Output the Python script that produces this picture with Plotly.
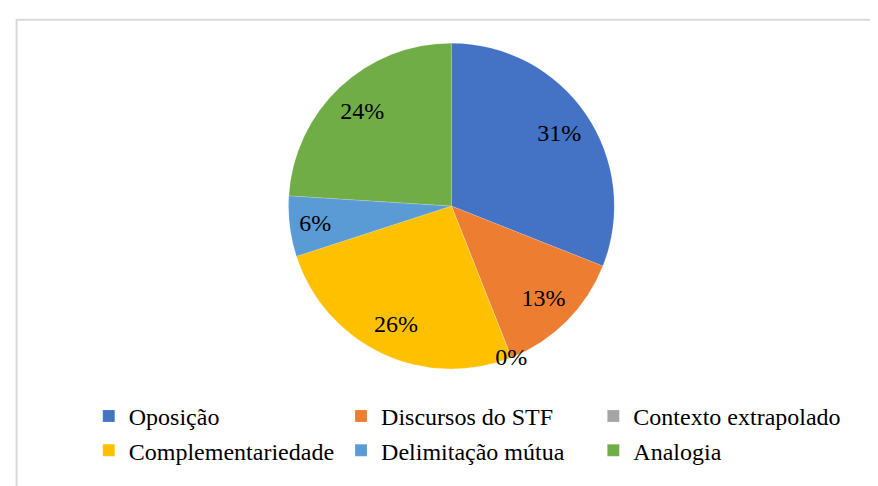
import plotly.graph_objects as go

# categories and shares (%)
categorias = ['Oposição', 'Discursos do STF', 'Contexto extrapolado',
              'Complementariedade', 'Delimitação mútua', 'Analogia']
valores = [31, 13, 0, 26, 6, 24]
cores = ['#4472C4', '#ED7D31', '#A5A5A5', '#FFC000', '#5B9BD5', '#70AD47']

fonte = 'Liberation Serif'

# a zero slice has no angle in plotly, so give it a hair-thin wedge to carry its label
valores_desenho = [v if v > 0 else 0.01 for v in valores]
dominio = dict(x = [0.3195, 0.6905], y = [0.257, 0.928])

fig = go.Figure()

# coloured slices
fig.add_trace(
    go.Pie(
        labels = categorias,
        values = valores_desenho,
        sort = False,
        direction = 'clockwise',
        rotation = 0,
        marker = dict(colors = cores, line = dict(color = 'rgba(255,255,255,0.3)', width = 0.5)),
        textinfo = 'none',
        domain = dominio,
        customdata = valores,
        hovertemplate = '%{label}: %{customdata}%<extra></extra>',
    )
)

# percentage labels, kept in the outer ring like the original
fig.add_trace(
    go.Pie(
        labels = categorias,
        values = valores_desenho,
        sort = False,
        direction = 'clockwise',
        rotation = 0,
        hole = 0.6,
        marker = dict(colors = ['rgba(0,0,0,0)'] * len(categorias), line = dict(width = 0)),
        customdata = valores,
        texttemplate = '%{customdata}%',
        textposition = 'inside',
        insidetextorientation = 'horizontal',
        textfont = dict(family = fonte, size = 24, color = 'black'),
        domain = dominio,
        showlegend = False,
        hoverinfo = 'skip',
    )
)

# light grey frame, as in the original chart
fig.add_shape(
    type = 'rect', xref = 'paper', yref = 'paper',
    x0 = 0.0098, x1 = 1.05, y0 = -0.05, y1 = 0.976,
    line = dict(color = '#d9d9d9', width = 2),
)

fig.update_layout(
    width = 878,
    height = 486,
    margin = dict(l = 0, r = 0, t = 0, b = 0, autoexpand = False),
    paper_bgcolor = 'white',
    plot_bgcolor = 'white',
    uniformtext = dict(minsize = 24, mode = 'show'),
    legend = dict(
        orientation = 'h',
        x = 0.092, xanchor = 'left',
        y = 0.206, yanchor = 'top',
        font = dict(family = fonte, size = 24, color = 'black'),
        traceorder = 'normal',
    ),
)

fig.write_html('out.html')
